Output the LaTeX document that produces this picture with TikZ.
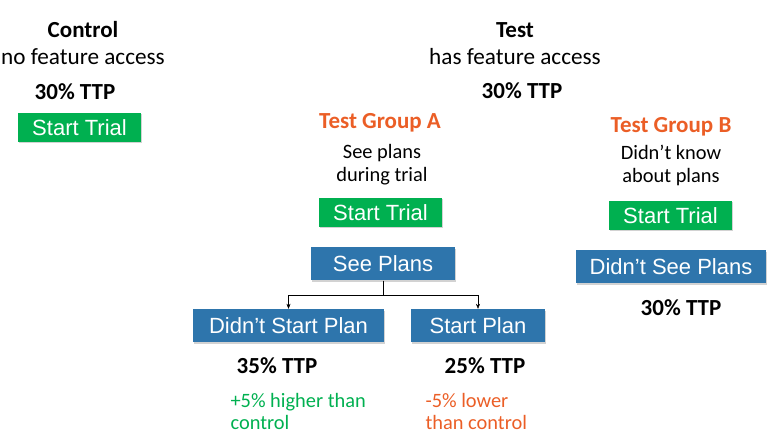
\documentclass[tikz,border=0pt]{standalone}
\usepackage{fontspec}
\setmainfont{Carlito}
\newfontfamily\btnfont{Liberation Sans}
\usetikzlibrary{arrows.meta,shadows}
\definecolor{trialgreen}{RGB}{0,176,80}
\definecolor{planblue}{RGB}{46,117,172}
\definecolor{grouporange}{RGB}{235,94,38}
\tikzset{
  titolo/.style={font=\fontsize{23}{27}\selectfont\bfseries, anchor=base},
  testo/.style={font=\fontsize{23.2}{27}\selectfont, anchor=base},
  piccolo/.style={font=\fontsize{20.4}{24}\selectfont, anchor=base},
  gruppo/.style={titolo, text=grouporange},
  bottone/.style={text=white, inner sep=0pt, font=\btnfont\fontsize{22}{26}\selectfont,
    drop shadow={shadow xshift=1pt, shadow yshift=-1.5pt, fill=black!35, opacity=0.5}},
  trial/.style={bottone, fill=trialgreen, minimum width=123pt, minimum height=29pt},
  piano/.style={bottone, fill=planblue, minimum height=33pt}
}
\begin{document}
\begin{tikzpicture}[x=1pt,y=-1pt]
        \useasboundingbox (0,0) rectangle (770,443);

        % Control
        \node[titolo] (ctrl) at (83,38) {Control};
        \node[testo] (ctrlsub) at (83,65) {no feature access};
        \node[titolo] (ctrlttp) at (75,100) {30\% TTP};
        \node[trial] (ctrltrial) at (79.5,127.5) {Start Trial};

        % Test
        \node[titolo] (test) at (515,38) {Test};
        \node[testo] (testsub) at (515,65) {has feature access};
        \node[titolo] (testttp) at (522,99) {30\% TTP};

        % Test Group A
        \node[gruppo] (grpa) at (380,129) {Test Group A};
        \node[piccolo] (grpa1) at (382,159) {See plans};
        \node[piccolo] (grpa2) at (382,182) {during trial};
        \node[trial] (trialA) at (380.5,212.5) {Start Trial};
        \node[piano, minimum width=144pt] (seeplans) at (383,264) {See Plans};
        \node[piano, minimum width=191pt] (nostart) at (288.5,325.5) {Didn’t Start Plan};
        \node[piano, minimum width=134pt] (startplan) at (478,325.5) {Start Plan};
        \draw[-{Stealth[length=5pt,width=4pt]}] (seeplans.south) -- ++(0,14) -| (nostart.north);
        \draw[-{Stealth[length=5pt,width=4pt]}] (seeplans.south) -- ++(0,14) -| (startplan.north);
        \node[titolo] (ttpnostart) at (277,373) {35\% TTP};
        \node[titolo] (ttpstart) at (485,373) {25\% TTP};
        \node[piccolo, anchor=base west, text=trialgreen] (up1) at (227,407) {+5\% higher than};
        \node[piccolo, anchor=base west, text=trialgreen] (up2) at (227,429) {control};
        \node[piccolo, anchor=base west, text=grouporange] (down1) at (422,407) {-5\% lower};
        \node[piccolo, anchor=base west, text=grouporange] (down2) at (422,429) {than control};

        % Test Group B
        \node[gruppo] (grpb) at (671,133) {Test Group B};
        \node[piccolo] (grpb1) at (671,160) {Didn’t know};
        \node[piccolo] (grpb2) at (671,183) {about plans};
        \node[trial] (trialB) at (670.5,215.5) {Start Trial};
        \node[piano, minimum width=190pt] (noseeplans) at (671,267) {Didn’t See Plans};
        \node[titolo] (ttpB) at (681,315) {30\% TTP};
    \end{tikzpicture}
\end{document}
